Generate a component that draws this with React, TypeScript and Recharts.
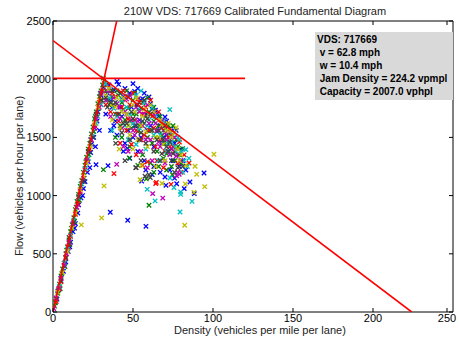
import React from "react";
import { ScatterChart, Scatter, XAxis, YAxis } from "recharts";

const xTicks = [0, 50, 100, 150, 200, 250];
const yTicks = [0, 500, 1000, 1500, 2000, 2500];

// density (veh/mi/lane), flow (veh/hr/lane)
const bluePts: [number, number][] = [
  [3, 180], [5, 290], [6.5, 350], [8, 430], [9.5, 520], [11, 600], [12.5, 690], [14, 760], [15.5, 850], [16, 920],
  [17.5, 980], [19, 1060], [20, 1120], [21.5, 1200], [22, 1290], [23.5, 1370], [24, 1440], [25.5, 1500], [26, 1580],
  [27.5, 1640], [28, 1720], [29.5, 1790], [30, 1860], [31.5, 1930],
  [2.5, 110], [7, 400], [10.5, 560], [13.5, 720], [18.5, 1000], [23, 1240], [26.5, 1420], [29, 1560],
  [34, 1880], [36, 1820], [38, 1910], [41, 1955], [42, 1760], [44, 1850], [46, 1700], [48, 1880], [50, 1962], [51, 1896],
  [52, 1780], [54, 1650], [55, 1820], [56, 1833], [58, 1700], [60, 1847], [61, 1600], [62, 1740], [64, 1733], [65, 1550],
  [66, 1680], [68, 1450], [70, 1675], [71, 1520], [72, 1380], [74, 1576], [75, 1300], [76, 1450], [78, 1350], [79, 1250],
  [80, 1400], [38, 1600], [40, 1520], [45, 1450], [50, 1500], [53, 1380], [57, 1300], [63, 1250], [67, 1200], [73, 1220],
  [33, 1700], [35, 1950], [37, 1760], [39, 1640], [40, 1980], [43, 1680], [45, 1920], [47, 1560], [49, 1760], [51, 1600],
  [53, 1920], [55, 1500], [57, 1880], [59, 1560], [61, 1790], [63, 1420], [65, 1700], [67, 1600], [69, 1500], [71, 1640],
  [73, 1480], [75, 1560], [77, 1560], [81, 1300], [83, 1220], [36, 1560], [44, 1380], [48, 1320], [58, 1220], [62, 1180],
  [70, 1160], [76, 1150],
  [94.4, 1194], [82, 1060], [70.6, 1088], [77.3, 1102], [58.1, 736], [46.7, 788], [35.8, 857], [34.4, 1257], [46.5, 1406],
  [88.3, 1017], [85.6, 1117], [55.4, 1125], [26.9, 1266],
];

const greenPts: [number, number][] = [
  [1, 50], [2, 110], [3, 160], [4, 240], [5, 310], [6, 370], [7, 420], [8, 500], [9, 560], [10, 620], [11, 690], [12, 750],
  [13, 810], [14, 880], [15, 950], [16, 1010], [17, 1080], [18, 1130], [19, 1200], [20, 1260], [21, 1330], [22, 1400],
  [23, 1450], [24, 1530], [25, 1590], [26, 1660], [27, 1720], [28, 1790], [29, 1850], [30, 1900], [31, 1950], [32, 1990],
  [4.5, 200], [7.5, 390], [10.5, 580], [13.5, 780], [16.5, 960], [19.5, 1150], [22.5, 1350], [25.5, 1550], [28.5, 1750],
  [30.5, 1820], [1.5, 80], [3.5, 190], [5.5, 330], [8.5, 530], [11.5, 720], [14.5, 900], [17.5, 1100], [20.5, 1290],
  [23.5, 1480], [26.5, 1680], [29.5, 1880], [31.5, 2010],
  [33, 1900], [35, 1780], [37, 1850], [39, 1700], [40, 1900], [43, 1800], [45, 1650], [47, 1750], [49, 1580], [50, 1820],
  [52, 1700], [53, 1550], [55, 1750], [57, 1620], [59, 1500], [60, 1720], [62, 1450], [63, 1640], [65, 1380], [66, 1600],
  [68, 1520], [69, 1320], [70, 1450], [72, 1600], [74, 1400], [76, 1300], [77, 1480], [79, 1350], [81, 1404], [43, 1500],
  [48, 1420], [56, 1350], [61, 1280], [66, 1250], [71, 1220],
  [34, 1820], [36, 1900], [38, 1780], [41, 1860], [42, 1600], [44, 1740], [46, 1900], [48, 1640], [50, 1700], [51, 1880],
  [54, 1600], [56, 1800], [58, 1680], [59, 1840], [61, 1560], [63, 1760], [64, 1500], [67, 1680], [69, 1560], [71, 1360],
  [73, 1520], [75, 1600], [78, 1420], [80, 1280], [39, 1500], [53, 1260], [63, 1200], [74, 1250],
  [31.5, 1223], [60, 917], [74.6, 1180], [47.7, 1323], [58.3, 1143],
];

const redPts: [number, number][] = [
  [2, 90], [5, 260], [8, 470], [11, 650], [14, 840], [17, 1030], [20, 1220], [23, 1400], [26, 1600], [29, 1800], [31, 1900],
  [4, 200], [9.5, 560], [15.5, 930], [21.5, 1310], [27.5, 1700],
  [34, 1950], [36, 1720], [39, 1850], [41, 1640], [44, 1900], [46, 1560], [48, 1780], [51, 1650], [53, 1830], [55, 1480],
  [58, 1760], [60, 1560], [62, 1680], [64, 1420], [66, 1720], [68, 1580], [70, 1380], [72, 1500], [75, 1420], [78, 1280],
  [42, 1450], [52, 1350], [59, 1290], [65, 1300], [80, 1200],
  [33, 1780], [37, 1880], [40, 1700], [43, 1760], [45, 1820], [47, 1660], [50, 1880], [52, 1560], [54, 1800], [56, 1700],
  [57, 1520], [61, 1820], [63, 1580], [67, 1480], [69, 1620], [71, 1600], [73, 1420], [74, 1520], [76, 1380], [79, 1460],
  [82, 1350], [49, 1440], [56, 1260], [69, 1240],
  [38.1, 1189], [64.2, 1103], [73.8, 1097], [85, 1280], [64.6, 1114],
];

const cyanPts: [number, number][] = [
  [4, 220], [9, 540], [13, 790], [18, 1100], [22, 1320], [25, 1520], [28, 1680],
  [7, 420], [11, 660], [16, 980], [20, 1230], [27, 1620], [30, 1780],
  [35, 1840], [38, 1750], [42, 1880], [45, 1600], [48, 1700], [52, 1860], [54, 1580], [57, 1800], [60, 1650], [63, 1520],
  [66, 1560], [69, 1640], [72, 1450], [73, 1739], [75, 1520], [77, 1380], [79, 1480], [82, 1300], [83, 1395], [84, 1250],
  [47, 1480], [58, 1400],
  [33, 1960], [37, 1560], [40, 1680], [43, 1820], [46, 1760], [50, 1620], [53, 1740], [55, 1900], [59, 1600], [62, 1760],
  [64, 1680], [67, 1520], [70, 1600], [71, 1380], [74, 1460], [76, 1420], [78, 1500], [80, 1380], [81, 1200], [85, 1320],
  [52, 1440], [66, 1300],
  [79.8, 1031], [79.4, 859], [86.9, 951], [75.6, 1069], [63.8, 954], [58.9, 1054], [73.1, 1151], [79.8, 1010],
];

const magentaPts: [number, number][] = [
  [0.5, 30], [3.5, 200], [7, 400], [10, 600], [15, 900], [19, 1150], [24, 1480], [27, 1660], [30, 1880],
  [2, 120], [5, 290], [8.5, 500], [12.5, 760], [17, 1040], [21, 1300], [26, 1580], [29, 1760],
  [33, 1820], [36, 1680], [40, 1790], [43, 1580], [46, 1830], [49, 1650], [51, 1520], [54, 1720], [56, 1600], [59, 1780],
  [61, 1480], [64, 1620], [67, 1420], [70, 1540], [73, 1350], [76, 1500], [78, 1200], [44, 1420], [55, 1380], [62, 1300],
  [34, 1900], [38, 1840], [41, 1760], [42, 1660], [45, 1720], [48, 1860], [50, 1560], [52, 1760], [53, 1640], [57, 1700],
  [58, 1480], [60, 1620], [63, 1700], [65, 1560], [66, 1460], [68, 1640], [71, 1480], [72, 1560], [74, 1400], [77, 1340],
  [80, 1300], [47, 1380], [59, 1240], [70, 1280],
  [39.8, 1269], [62.3, 1017], [68.6, 979], [78.9, 1183], [77.3, 1170],
];

const yellowPts: [number, number][] = [
  [6, 340], [12, 720], [17, 1050], [21, 1280], [26, 1620], [29, 1820],
  [3, 170], [9, 520], [14, 850], [19, 1170], [23.5, 1420], [28, 1760],
  [35, 1920], [37, 1650], [40, 1840], [43, 1720], [47, 1600], [50, 1780], [53, 1480], [56, 1680], [58, 1550], [61, 1780],
  [64, 1500], [67, 1650], [70, 1300], [73, 1560], [76, 1540], [77, 1584], [80, 1350], [50, 1400], [64, 1250],
  [33, 1860], [36, 1780], [39, 1760], [42, 1580], [44, 1840], [46, 1700], [48, 1520], [51, 1720], [52, 1840], [55, 1600],
  [57, 1740], [59, 1420], [60, 1700], [62, 1560], [63, 1720], [66, 1500], [68, 1610], [69, 1440], [71, 1560], [72, 1620],
  [74, 1500], [78, 1400], [79, 1300], [83, 1260],
  [31.9, 1083], [30.4, 808], [82.3, 745], [94.8, 1077], [89.8, 1183], [88.8, 1252], [68.1, 1105], [82.7, 1100], [88.1, 1028],
  [54.4, 1137], [55.4, 1260], [100.6, 1355], [17.7, 748], [41.4, 1400],
];

const grayPts: [number, number][] = [
  [10, 640], [16, 990], [22, 1380], [27, 1700],
  [5, 270], [8, 460], [13, 770], [19, 1120], [25, 1500], [30, 1820],
  [34, 1760], [37, 1900], [41, 1700], [44, 1620], [47, 1850], [52, 1600], [55, 1540], [58, 1450], [61, 1700], [65, 1480],
  [68, 1360], [71, 1420], [74, 1300], [76, 1200], [52, 1240], [60, 1180], [45, 1300],
  [33, 1840], [36, 1800], [39, 1800], [42, 1880], [43, 1540], [46, 1620], [49, 1720], [50, 1660], [53, 1780], [54, 1480],
  [56, 1640], [57, 1820], [59, 1660], [62, 1560], [63, 1380], [66, 1560], [67, 1300], [69, 1480], [70, 1600], [72, 1380],
  [73, 1460], [75, 1360], [78, 1240], [81, 1250], [48, 1480], [55, 1300],
  [51.7, 1240], [57.5, 1166], [60.8, 1155], [39.2, 1449],
];

// fitted triangular diagram
const freeFlowLine: [number, number][] = [[0, 0], [39.8, 2500]];
const congestedLine: [number, number][] = [[0, 2331.7], [224.2, 0]];
const capacityLine: [number, number][] = [[0, 2007], [120, 2007]];

const infoLines = ["VDS: 717669", " v = 62.8 mph", " w = 10.4 mph", " Jam Density = 224.2 vpmpl", " Capacity = 2007.0 vphpl"];

const groups = [
  { name: "b", color: "#0000ff", pts: bluePts },
  { name: "g", color: "#008000", pts: greenPts },
  { name: "r", color: "#ff0000", pts: redPts },
  { name: "c", color: "#00bfbf", pts: cyanPts },
  { name: "m", color: "#bf00bf", pts: magentaPts },
  { name: "y", color: "#bfbf00", pts: yellowPts },
  { name: "k", color: "#404040", pts: grayPts },
];

const toXY = (pts: [number, number][]) => pts.map(([x, y]) => ({ x, y }));

const FONT = "'Liberation Sans', Arial, Helvetica, sans-serif";
const TICK_LEN = 4;

function Cross(props: any) {
  const { cx, cy, fill } = props;
  if (cx == null || cy == null) return null;
  const r = 2.2;
  return (
    <path
      d={`M${cx - r},${cy - r}L${cx + r},${cy + r}M${cx - r},${cy + r}L${cx + r},${cy - r}`}
      stroke={fill}
      strokeWidth={1.3}
      fill="none"
    />
  );
}

const NoDot = () => null;

function BottomTick(props: any) {
  const { x, y, payload } = props;
  return (
    <g>
      <line x1={x} x2={x} y1={y} y2={y - TICK_LEN} stroke="#000" />
      <text x={x} y={y + 10} textAnchor="middle" fontSize={11} fontFamily={FONT} fill="#000">
        {payload.value}
      </text>
    </g>
  );
}

function TopTick(props: any) {
  const { x, y } = props;
  return <line x1={x} x2={x} y1={y} y2={y + TICK_LEN} stroke="#000" />;
}

function LeftTick(props: any) {
  const { x, y, payload } = props;
  return (
    <g>
      <line x1={x} x2={x + TICK_LEN} y1={y} y2={y} stroke="#000" />
      <text x={x - 2} y={y + 4} textAnchor="end" fontSize={11} fontFamily={FONT} fill="#000">
        {payload.value}
      </text>
    </g>
  );
}

function RightTick(props: any) {
  const { x, y } = props;
  return <line x1={x} x2={x - TICK_LEN} y1={y} y2={y} stroke="#000" />;
}

export default function App() {
  return (
    <div style={{ position: "relative", width: 459, height: 341, fontFamily: FONT, background: "#fff" }}>
      <style>{`body{margin:0}`}</style>
      <ScatterChart width={459} height={341} margin={{ top: 20, right: 5, bottom: 28, left: 52 }}>
        <XAxis
          xAxisId="b"
          dataKey="x"
          type="number"
          domain={[0, 250]}
          ticks={xTicks}
          height={1}
          tickSize={0}
          tickMargin={0}
          axisLine={{ stroke: "#000" }}
          tick={<BottomTick />}
          allowDataOverflow
        />
        <XAxis
          xAxisId="t"
          orientation="top"
          dataKey="x"
          type="number"
          domain={[0, 250]}
          ticks={xTicks}
          height={1}
          tickSize={0}
          tickMargin={0}
          axisLine={{ stroke: "#000" }}
          tick={<TopTick />}
          allowDataOverflow
        />
        <YAxis
          yAxisId="l"
          dataKey="y"
          type="number"
          domain={[0, 2500]}
          ticks={yTicks}
          width={1}
          tickSize={0}
          tickMargin={0}
          axisLine={{ stroke: "#000" }}
          tick={<LeftTick />}
          allowDataOverflow
        />
        <YAxis
          yAxisId="r"
          orientation="right"
          dataKey="y"
          type="number"
          domain={[0, 2500]}
          ticks={yTicks}
          width={1}
          tickSize={0}
          tickMargin={0}
          axisLine={{ stroke: "#000" }}
          tick={<RightTick />}
          allowDataOverflow
        />
        {groups.map((g) => (
          <Scatter
            key={g.name}
            xAxisId="b"
            yAxisId="l"
            data={toXY(g.pts)}
            fill={g.color}
            shape={<Cross />}
            isAnimationActive={false}
          />
        ))}
        {[freeFlowLine, congestedLine, capacityLine].map((seg, i) => (
          <Scatter
            key={"line" + i}
            xAxisId="b"
            yAxisId="l"
            data={toXY(seg)}
            fill="#ff0000"
            line={{ stroke: "#ff0000", strokeWidth: 1.6 }}
            shape={<NoDot />}
            isAnimationActive={false}
          />
        ))}
      </ScatterChart>
      <div
        style={{
          position: "absolute",
          left: 0,
          top: 5,
          width: 459,
          paddingLeft: 51,
          boxSizing: "border-box",
          textAlign: "center",
          fontSize: 11,
          lineHeight: "12px",
          color: "#222",
        }}
      >
        210W VDS: 717669 Calibrated Fundamental Diagram
      </div>
      <div
        style={{
          position: "absolute",
          left: 174,
          top: 325,
          width: 163,
          textAlign: "center",
          fontSize: 11,
          lineHeight: "11px",
          color: "#222",
          whiteSpace: "nowrap",
        }}
      >
        Density (vehicles per mile per lane)
      </div>
      <div
        style={{
          position: "absolute",
          left: 19,
          top: 176,
          transform: "translate(-50%, -50%) rotate(-90deg)",
          fontSize: 11,
          lineHeight: "11px",
          color: "#222",
          whiteSpace: "nowrap",
        }}
      >
        Flow (vehicles per hour per lane)
      </div>
      <div
        style={{
          position: "absolute",
          left: 315,
          top: 32,
          width: 138,
          height: 68,
          background: "#d9d9d9",
          boxSizing: "border-box",
          paddingTop: 1,
          paddingLeft: 2,
          fontSize: 10,
          fontWeight: "bold",
          lineHeight: "13px",
          color: "#000",
          whiteSpace: "pre",
        }}
      >
        {infoLines.map((t) => (
          <div key={t}>{t}</div>
        ))}
      </div>
    </div>
  );
}
